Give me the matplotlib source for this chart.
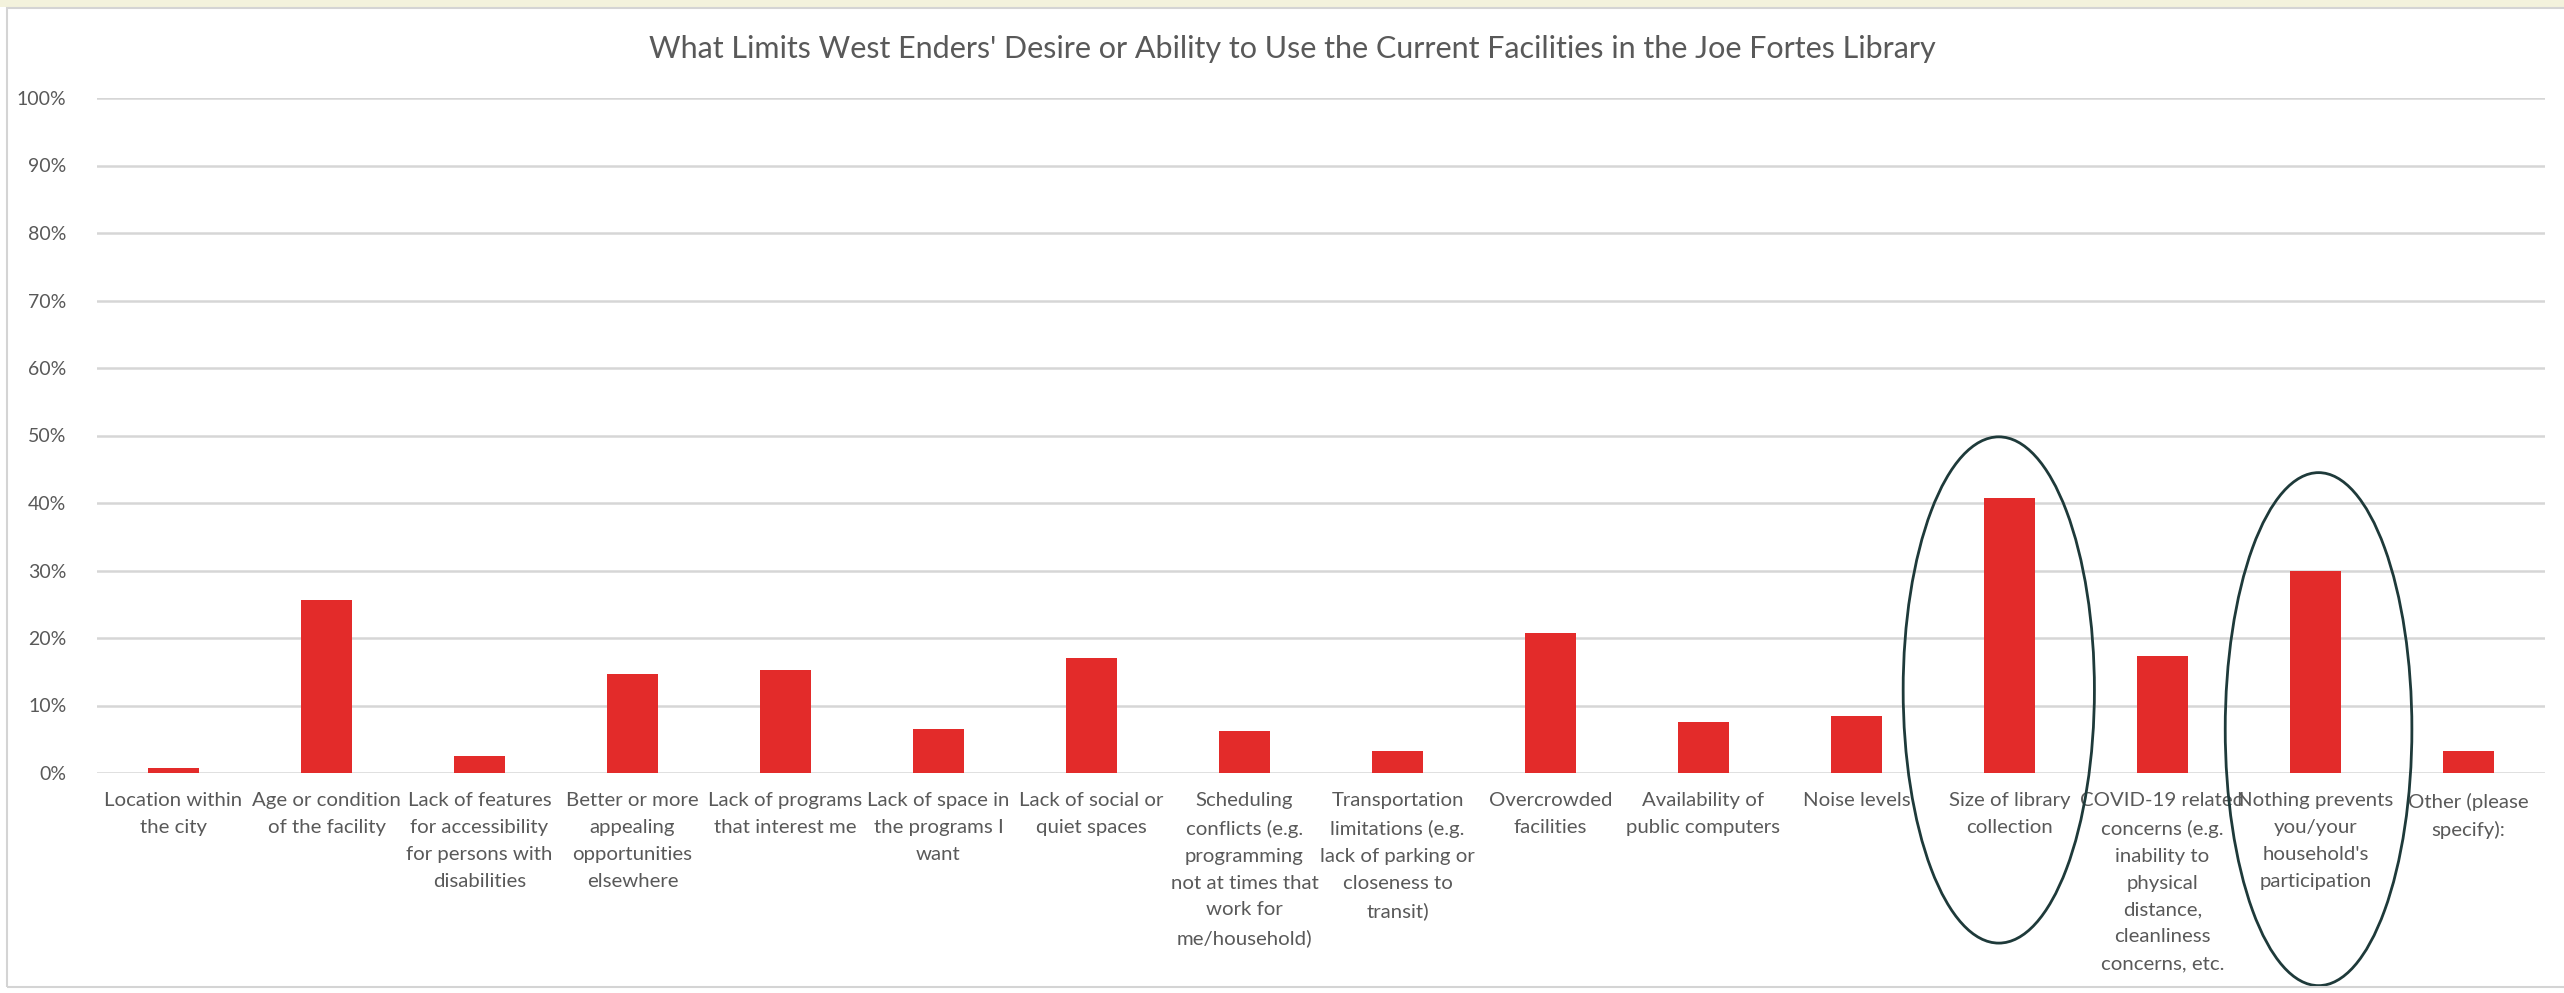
import matplotlib.pyplot as plt
from matplotlib.patches import Ellipse, Rectangle
from matplotlib.ticker import PercentFormatter

categories = [
    "Location within\nthe city",
    "Age or condition\nof the facility",
    "Lack of features\nfor accessibility\nfor persons with\ndisabilities",
    "Better or more\nappealing\nopportunities\nelsewhere",
    "Lack of programs\nthat interest me",
    "Lack of space in\nthe programs I\nwant",
    "Lack of social or\nquiet spaces",
    "Scheduling\nconflicts (e.g.\nprogramming\nnot at times that\nwork for\nme/household)",
    "Transportation\nlimitations (e.g.\nlack of parking or\ncloseness to\ntransit)",
    "Overcrowded\nfacilities",
    "Availability of\npublic computers",
    "Noise levels",
    "Size of library\ncollection",
    "COVID-19 related\nconcerns (e.g.\ninability to\nphysical\ndistance,\ncleanliness\nconcerns, etc.",
    "Nothing prevents\nyou/your\nhousehold's\nparticipation",
    "Other (please\nspecify):",
]
values = [0.7, 25.6, 2.5, 14.6, 15.2, 6.5, 17.1, 6.2, 3.2, 20.7, 7.6, 8.5, 40.8, 17.3, 29.9, 3.3]
yticks = list(range(0, 101, 10))
title = "What Limits West Enders' Desire or Ability to Use the Current Facilities in the Joe Fortes Library"

# highlighted groups: (centre x index, centre y %, width in categories, height in %)
highlights = [(11.93, 12.3, 1.25, 75.0), (14.02, 6.5, 1.22, 76.0)]

plt.rcParams['font.family'] = ['Lato', 'DejaVu Sans']

fig = plt.figure(figsize=(25.64, 9.93), dpi=100)
fig.patch.set_facecolor('white')
# screenshot frame
fig.add_artist(Rectangle((0, 1 - 7 / 993), 1, 7 / 993, transform=fig.transFigure,
                         facecolor='#f3f2dc', edgecolor='none'))
fig.add_artist(Rectangle((7 / 2564, 6 / 993), 1, 1 - 14 / 993, transform=fig.transFigure,
                         facecolor='none', edgecolor='#d4d4d4', lw=1.5))

ax = fig.add_axes([97 / 2564, 220 / 993, 2448 / 2564, 675 / 993])
x = list(range(len(categories)))
ax.bar(x, values, width=0.33, color='#e32b2a', zorder=3)

ax.set_xlim(-0.5, len(categories) - 0.5)
ax.set_ylim(0, 100)
ax.set_yticks(yticks)
ax.yaxis.set_major_formatter(PercentFormatter(decimals=0))
ax.grid(axis='y', color='#d6d6d6', lw=1.8, zorder=0)
ax.set_xticks(x)
ax.set_xticklabels(categories, fontsize=14.7, color='#595959', linespacing=1.7)
ax.tick_params(axis='x', length=0, pad=14)
ax.tick_params(axis='y', length=0, pad=22, labelsize=14, labelcolor='#595959')
for s in ax.spines.values():
    s.set_visible(False)

fig.text(1292 / 2564, 1 - 49 / 993, title, fontsize=22, color='#595959',
         ha='center', va='center')

for cx, cy, w, h in highlights:
    ax.add_patch(Ellipse((cx, cy), w, h, facecolor='none', edgecolor='#1e3a3a',
                         lw=2, clip_on=False, zorder=5))

fig.savefig('out.png', dpi=100)
